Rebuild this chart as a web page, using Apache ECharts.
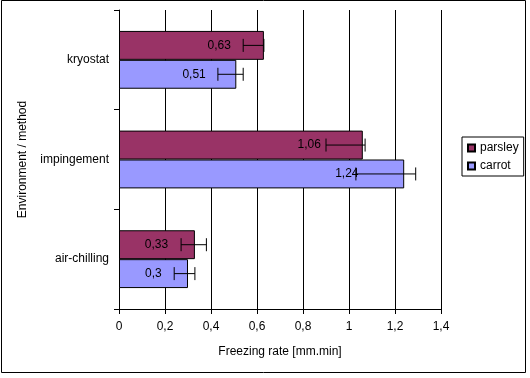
<!DOCTYPE html>
<html>
<head>
<meta charset="utf-8">
<script src="https://cdn.jsdelivr.net/npm/echarts@6/dist/echarts.min.js"></script>
<style>html,body{margin:0;padding:0;background:#fff}#c{width:530px;height:378px}</style>
</head>
<body>
<div id="c"></div>
<script>
const categories = ['kryostat', 'impingement', 'air-chilling'];
const parsley = [0.63, 1.06, 0.33];
const carrot = [0.51, 1.24, 0.30];
const parsleyErrLow = [0.54, 0.90, 0.27];
const parsleyErrHigh = [0.63, 1.07, 0.38];
const carrotErrLow = [0.43, 1.03, 0.24];
const carrotErrHigh = [0.54, 1.29, 0.33];
const xTicks = { min: 0, max: 1.4, interval: 0.2 };

const FONT = 'Liberation Sans, Arial, sans-serif';
const FS = 12;
const CAT_GAP = 0.42;

const errData = [];
categories.forEach((c, i) => {
  errData.push([i, parsleyErrLow[i], parsleyErrHigh[i], 0]);
  errData.push([i, carrotErrLow[i], carrotErrHigh[i], 1]);
});

// label inset from bar end grows slightly with bar length (as in the source chart)
const withLabel = arr => arr.map(v => ({ value: v, label: { distance: 20 + 20.7 * v } }));

const chart = echarts.init(document.getElementById('c'), null, { renderer: 'canvas' });
const fmt = v => String(v).replace('.', ',');
const txt = { fontFamily: FONT, fontSize: FS, color: '#000' };
chart.setOption({
  animation: false,
  backgroundColor: '#fff',
  textStyle: txt,
  graphic: [{
    type: 'rect', shape: { x: 1.5, y: 0.5, width: 524, height: 372 },
    style: { fill: 'none', stroke: '#000', lineWidth: 1 }, silent: true, z: 100
  }],
  grid: { left: 119, right: 89, top: 10, bottom: 69, containLabel: false },
  legend: {
    data: ['parsley', 'carrot'],
    orient: 'vertical',
    left: 462, top: 137,
    borderColor: '#000', borderWidth: 1, borderRadius: 0,
    padding: [5, 5, 4, 5],
    itemWidth: 7, itemHeight: 7, itemGap: 6,
    icon: 'rect',
    textStyle: txt
  },
  xAxis: {
    type: 'value', min: xTicks.min, max: xTicks.max, interval: xTicks.interval,
    name: 'Freezing rate [mm.min]', nameLocation: 'middle', nameGap: 37,
    nameTextStyle: txt,
    axisLine: { show: true, lineStyle: { color: '#000', width: 1 } },
    axisTick: { show: true, length: 5, lineStyle: { color: '#000' } },
    axisLabel: Object.assign({ margin: 12, formatter: v => fmt(+v.toFixed(1)) }, txt),
    splitLine: { show: true, lineStyle: { color: '#000', width: 1 } }
  },
  yAxis: {
    type: 'category', data: categories, inverse: true,
    name: 'Environment / method', nameLocation: 'middle', nameGap: 90, nameRotate: 90,
    nameTextStyle: txt,
    axisLine: { show: true, lineStyle: { color: '#000', width: 1 } },
    axisTick: { show: true, length: 5, alignWithLabel: false, lineStyle: { color: '#000' } },
    axisLabel: Object.assign({ margin: 10 }, txt),
    splitLine: { show: false }
  },
  series: [
    {
      name: 'parsley', type: 'bar', data: withLabel(parsley), barGap: '0%', barCategoryGap: (CAT_GAP * 100) + '%',
      itemStyle: { color: '#993366', borderColor: '#000', borderWidth: 1 },
      label: Object.assign({ show: true, position: 'insideRight', formatter: p => fmt(p.value) }, txt)
    },
    {
      name: 'carrot', type: 'bar', data: withLabel(carrot), barGap: '0%', barCategoryGap: (CAT_GAP * 100) + '%',
      itemStyle: { color: '#9999FF', borderColor: '#000', borderWidth: 1 },
      label: Object.assign({ show: true, position: 'insideRight', formatter: p => fmt(p.value) }, txt)
    },
    {
      name: 'err', type: 'custom', data: errData, z: 10,
      encode: { x: [1, 2], y: 0 },
      renderItem: (params, api) => {
        const cat = api.value(0), lo = api.value(1), hi = api.value(2), which = api.value(3);
        const pL = api.coord([lo, cat]);
        const pH = api.coord([hi, cat]);
        const band = api.size([0, 1])[1];
        const bw = band * (1 - CAT_GAP) / 2;
        const y = pL[1] + (which === 0 ? -1 : 1) * bw / 2;
        const h = 6.5;
        const st = { stroke: '#000', lineWidth: 1 };
        return {
          type: 'group', children: [
            { type: 'line', shape: { x1: pL[0], y1: y, x2: pH[0], y2: y }, style: st },
            { type: 'line', shape: { x1: pL[0], y1: y - h, x2: pL[0], y2: y + h }, style: st },
            { type: 'line', shape: { x1: pH[0], y1: y - h, x2: pH[0], y2: y + h }, style: st }
          ]
        };
      }
    }
  ]
});
</script>
</body>
</html>
